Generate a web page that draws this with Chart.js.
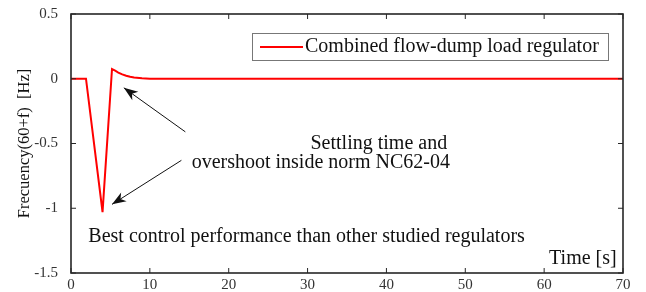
<!DOCTYPE html>
<html>
<head>
<meta charset="utf-8">
<script src="https://cdn.jsdelivr.net/npm/chart.js@4"></script>
<style>
  html, body { margin: 0; padding: 0; background: #fff; }
  #wrap { width: 646px; height: 292px; }
</style>
</head>
<body>
<div id="wrap"><canvas id="freqChart" width="646" height="292"></canvas></div>
<script>
// values
const times = [0, 1.9, 4.0, 5.2, 5.6, 6.0, 6.5, 7.0, 7.5, 8.0, 9.0, 10.0, 70];
const freq = [0, 0, -1.03, 0.075, 0.062, 0.048, 0.034, 0.023, 0.015, 0.009, 0.003, 0, 0];
const xTicks = [0, 10, 20, 30, 40, 50, 60, 70];
const yTicks = [0.5, 0, -0.5, -1, -1.5];

const serif = '"Liberation Serif", "Times New Roman", serif';
const axisColor = '#262626';

// frame, inner ticks, legend, notes and arrows
const extras = {
    id: 'extras',
    afterDraw(chart) {
        const c = chart.ctx, a = chart.chartArea;
        const xs = chart.scales.x, ys = chart.scales.y;
        c.save();
        c.strokeStyle = axisColor;
        c.lineWidth = 1.6;
        c.strokeRect(a.left, a.top, a.right - a.left, a.bottom - a.top);
        c.lineWidth = 1;
        xTicks.forEach(v => {
            const px = xs.getPixelForValue(v);
            c.beginPath();
            c.moveTo(px, a.bottom); c.lineTo(px, a.bottom - 5);
            c.moveTo(px, a.top); c.lineTo(px, a.top + 5);
            c.stroke();
        });
        yTicks.forEach(v => {
            const py = ys.getPixelForValue(v);
            c.beginPath();
            c.moveTo(a.left, py); c.lineTo(a.left + 5, py);
            c.moveTo(a.right, py); c.lineTo(a.right - 5, py);
            c.stroke();
        });

        // legend
        c.fillStyle = '#fff';
        c.fillRect(252, 33, 356, 27);
        c.strokeStyle = '#777';
        c.strokeRect(252.5, 33.5, 356, 27);
        c.strokeStyle = '#ff0000';
        c.lineWidth = 2;
        c.beginPath(); c.moveTo(260, 47); c.lineTo(303, 47); c.stroke();
        c.fillStyle = '#111';
        c.font = '20px ' + serif;
        c.textBaseline = 'middle';
        c.textAlign = 'left';
        c.fillText('Combined flow-dump load regulator', 305, 47);

        // notes
        const X = v => xs.getPixelForValue(v), Y = v => ys.getPixelForValue(v);
        c.textAlign = 'right';
        c.fillText('Settling time and', X(47.7), Y(-0.5));
        c.textAlign = 'left';
        c.fillText('overshoot inside norm NC62-04', X(15.3), Y(-0.65));
        c.fillText('Best control performance than other studied regulators', X(2.2), Y(-1.22));
        c.textAlign = 'right';
        c.fillText('Time [s]', X(69.2), Y(-1.39));

        // arrows
        const arrow = (x0, y0, x1, y1) => {
            const p0x = X(x0), p0y = Y(y0), p1x = X(x1), p1y = Y(y1);
            const ang = Math.atan2(p1y - p0y, p1x - p0x);
            c.strokeStyle = '#111';
            c.lineWidth = 1;
            c.beginPath(); c.moveTo(p0x, p0y); c.lineTo(p1x, p1y); c.stroke();
            c.beginPath();
            c.moveTo(p1x, p1y);
            c.lineTo(p1x - 15 * Math.cos(ang - 0.35), p1y - 15 * Math.sin(ang - 0.35));
            c.lineTo(p1x - 10 * Math.cos(ang), p1y - 10 * Math.sin(ang));
            c.lineTo(p1x - 15 * Math.cos(ang + 0.35), p1y - 15 * Math.sin(ang + 0.35));
            c.closePath();
            c.fillStyle = '#111';
            c.fill();
        };
        arrow(14.5, -0.41, 6.7, -0.07);
        arrow(14.0, -0.63, 5.2, -0.97);

        // y axis label
        c.translate(25, (a.top + a.bottom) / 2);
        c.rotate(-Math.PI / 2);
        c.textAlign = 'center';
        c.font = '16.5px ' + serif;
        c.fillText('Frecuency(60+f)  [Hz]', 0, 0);
        c.restore();
    }
};

new Chart(document.getElementById('freqChart'), {
    type: 'line',
    data: {
        datasets: [{
            data: times.map((t, i) => ({ x: t, y: freq[i] })),
            borderColor: '#ff0000',
            borderWidth: 2,
            pointRadius: 0,
            tension: 0,
            fill: false
        }]
    },
    options: {
        responsive: false,
        animation: false,
        events: [],
        layout: { padding: { top: 14, right: 23, left: 0, bottom: 0 } },
        plugins: { legend: { display: false }, tooltip: { enabled: false } },
        scales: {
            x: {
                type: 'linear', min: 0, max: 70,
                afterBuildTicks: s => { s.ticks = xTicks.map(v => ({ value: v })); },
                afterFit: s => { s.height = 19; s.paddingLeft = 0; s.paddingRight = 0; },
                grid: { display: false, drawTicks: false },
                border: { display: false },
                ticks: { color: '#333', font: { family: serif, size: 15 }, padding: 3, maxRotation: 0 }
            },
            y: {
                type: 'linear', min: -1.5, max: 0.5,
                afterBuildTicks: s => { s.ticks = yTicks.map(v => ({ value: v })); },
                afterFit: s => { s.width = 71; s.paddingTop = 0; s.paddingBottom = 0; },
                grid: { display: false, drawTicks: false },
                border: { display: false },
                ticks: {
                    color: '#333', font: { family: serif, size: 15 }, padding: 13,
                    callback: v => String(v)
                }
            }
        }
    },
    plugins: [extras]
});
</script>
</body>
</html>
